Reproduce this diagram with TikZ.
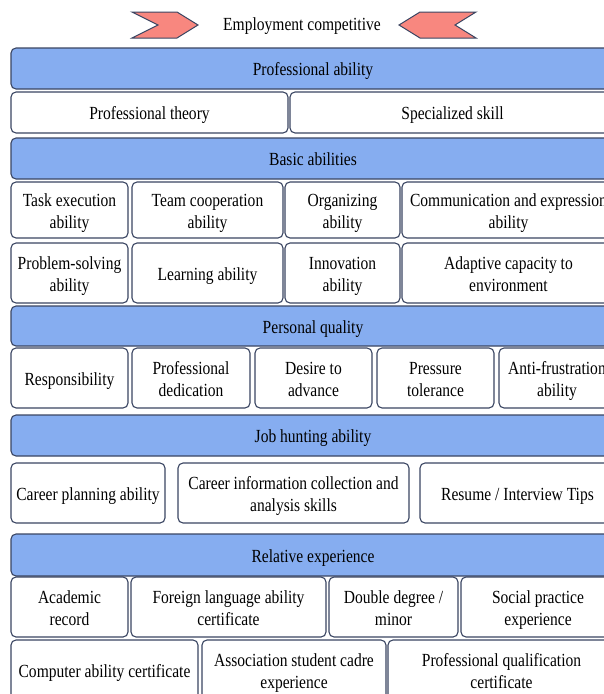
\documentclass[tikz,border=0pt]{standalone}
\usepackage{fontspec}
\setmainfont{Liberation Serif}[FakeStretch=0.84]
\definecolor{edge}{HTML}{3A4562}
\definecolor{barblue}{HTML}{86ADF0}
\definecolor{salmon}{HTML}{F8877F}
\tikzset{
  cell/.style={draw=edge, line width=1.1pt, rounded corners=5pt, fill=white, inner sep=0pt,
    font=\fontsize{18.5}{22}\selectfont},
  bar/.style={cell, fill=barblue},
  chev/.style={draw=edge, line width=1pt, fill=salmon},
}
\newcommand\cbox[7]{\node[#1, minimum width={#4pt-#2pt}, minimum height={#5pt-#3pt}] (#6) at ({(#2+#4)/2},{(#3+#5)/2}) {\raisebox{-3pt}[\height][\depth]{\begin{tabular}{@{}c@{}}#7\end{tabular}}};}
\begin{document}
\begin{tikzpicture}[x=1pt,y=-1pt]
\useasboundingbox (0,0) rectangle (604,694);
\clip (0,0) rectangle (604,694);
% title
\draw[chev] (132,12) -- (177,12) -- (198,25) -- (177,38) -- (132,38) -- (158,25) -- cycle;
\draw[chev] (476,12) -- (420,12) -- (399,25) -- (420,38) -- (476,38) -- (455,25) -- cycle;
\node[font=\fontsize{18.5}{22}\selectfont, inner sep=0pt] (title) at (302,26) {Employment competitive};
% professional ability
\cbox{bar}{11}{48}{615}{89}{pa}{Professional ability}
\cbox{cell}{11}{92}{288}{133}{pt}{Professional theory}
\cbox{cell}{290}{92}{615}{133}{ss}{Specialized skill}
% basic abilities
\cbox{bar}{11}{138}{615}{179}{ba}{Basic abilities}
\cbox{cell}{11}{182}{128}{238}{te}{Task execution\\ability}
\cbox{cell}{132}{182}{283}{238}{tc}{Team cooperation\\ability}
\cbox{cell}{285}{182}{400}{238}{oa}{Organizing\\ability}
\cbox{cell}{402}{182}{615}{238}{ce}{Communication and expression\\ability}
\cbox{cell}{11}{243}{128}{303}{ps}{Problem-solving\\ability}
\cbox{cell}{132}{243}{283}{303}{la}{Learning ability}
\cbox{cell}{285}{243}{400}{303}{ia}{Innovation\\ability}
\cbox{cell}{402}{243}{615}{303}{ac}{Adaptive capacity to\\environment}
% personal quality
\cbox{bar}{11}{306}{615}{346}{pq}{Personal quality}
\cbox{cell}{11}{348}{128}{408}{re}{Responsibility}
\cbox{cell}{132}{348}{250}{408}{pd}{Professional\\dedication}
\cbox{cell}{255}{348}{372}{408}{da}{Desire to\\advance}
\cbox{cell}{377}{348}{494}{408}{pr}{Pressure\\tolerance}
\cbox{cell}{499}{348}{615}{408}{af}{Anti-frustration\\ability}
% job hunting
\cbox{bar}{11}{415}{615}{456}{jh}{Job hunting ability}
\cbox{cell}{11}{463}{165}{523}{cp}{Career planning ability}
\cbox{cell}{178}{463}{409}{523}{ci}{Career information collection and\\analysis skills}
\cbox{cell}{420}{463}{615}{523}{ri}{Resume / Interview Tips}
% relative experience
\cbox{bar}{11}{534}{615}{576}{rx}{Relative experience}
\cbox{cell}{11}{577}{128}{637}{ar}{Academic\\record}
\cbox{cell}{131}{577}{326}{637}{fl}{Foreign language ability\\certificate}
\cbox{cell}{329}{577}{458}{637}{dd}{Double degree /\\minor}
\cbox{cell}{461}{577}{615}{637}{sp}{Social practice\\experience}
\cbox{cell}{11}{640}{198}{700}{ca}{Computer ability certificate}
\cbox{cell}{202}{640}{386}{700}{as}{Association student cadre\\experience}
\cbox{cell}{388}{640}{615}{700}{pc}{Professional qualification\\certificate}
\end{tikzpicture}
\end{document}
